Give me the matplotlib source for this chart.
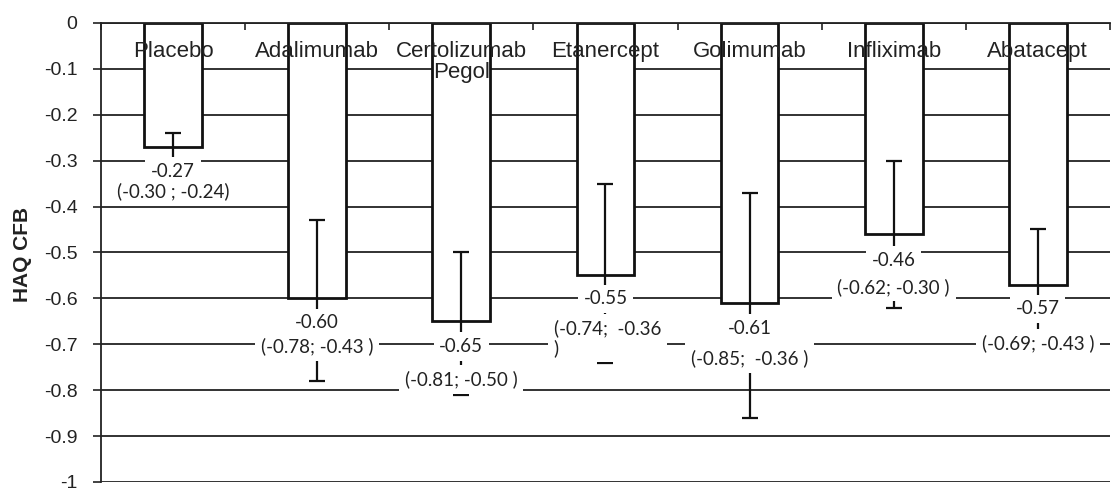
import numpy as np
import matplotlib.pyplot as plt

plt.rcParams['axes.unicode_minus'] = False

treatments = ['Placebo', 'Adalimumab', 'Certolizumab\nPegol', 'Etanercept',
              'Golimumab', 'Infliximab', 'Abatacept']
haq_cfb = [-0.27, -0.60, -0.65, -0.55, -0.61, -0.46, -0.57]
# error bar ends as drawn in the chart
err_low = [-0.30, -0.78, -0.81, -0.74, -0.86, -0.62, -0.69]
err_high = [-0.24, -0.43, -0.50, -0.35, -0.37, -0.30, -0.45]
value_labels = ['-0.27', '-0.60', '-0.65', '-0.55', '-0.61', '-0.46', '-0.57']
ci_labels = ['(-0.30 ; -0.24)', '(-0.78; -0.43 )', '(-0.81; -0.50 )',
             '(-0.74;  -0.36\n)', '(-0.85;  -0.36 )', '(-0.62; -0.30 )',
             '(-0.69; -0.43 )']
yticks = [0, -0.1, -0.2, -0.3, -0.4, -0.5, -0.6, -0.7, -0.8, -0.9, -1]
ytick_labels = ['0', '-0.1', '-0.2', '-0.3', '-0.4', '-0.5', '-0.6',
                '-0.7', '-0.8', '-0.9', '-1']

# where the data labels sit (y of value line, y of CI line)
value_label_y = [-0.323, -0.653, -0.705, -0.601, -0.666, -0.517, -0.623]
ci_label_y = [-0.367, -0.705, -0.776, -0.666, -0.730, -0.575, -0.698]

x = np.arange(len(treatments)) + 0.5
vals = np.array(haq_cfb)
yerr = [vals - np.array(err_low), np.array(err_high) - vals]

fig = plt.figure(figsize=(11.11, 4.94), dpi=100)
ax = fig.add_axes([0.0909, 0.0245, 0.9081, 0.929])

for yt in yticks:
    ax.axhline(yt, color='#222222', lw=1.3, zorder=1)

ax.bar(x, haq_cfb, width=0.4, color='white', edgecolor='#111111', lw=2, zorder=2)
ax.errorbar(x, haq_cfb, yerr=yerr, fmt='none', ecolor='#111111', elinewidth=1.6,
            capsize=6, capthick=1.6, zorder=3)

box = dict(facecolor='white', edgecolor='none', pad=4)
for i in range(len(treatments)):
    ax.text(x[i], value_label_y[i], value_labels[i], ha='center', va='center',
            fontsize=13.5, family='Lato', color='#222222', bbox=box, zorder=4)
    if '\n' in ci_labels[i]:
        ax.text(x[i] - 0.36, ci_label_y[i] + 0.02, ci_labels[i], ha='left', va='top',
                fontsize=13.5, family='Lato', color='#222222', bbox=box, zorder=4,
                linespacing=1.1)
    else:
        ax.text(x[i], ci_label_y[i], ci_labels[i], ha='center', va='center',
                fontsize=13.5, family='Lato', color='#222222', bbox=box, zorder=4)
    ax.text(x[i], -0.040, treatments[i], ha='center', va='top', fontsize=16,
            family='Liberation Sans', color='#222222', zorder=5, linespacing=0.95)

ax.set_xlim(0, len(treatments))
ax.set_ylim(-1, 0)
ax.xaxis.tick_top()
ax.set_xticks(np.arange(len(treatments) + 1))
ax.set_xticklabels([])
ax.tick_params(axis='x', direction='in', length=5, width=1.2, color='#222222')
ax.set_yticks(yticks)
ax.set_yticklabels(ytick_labels, fontsize=14, family='Liberation Sans', color='#222222')
ax.tick_params(axis='y', direction='out', length=6, width=1.2, color='#222222', pad=11)

for side in ['right', 'bottom']:
    ax.spines[side].set_visible(False)
ax.spines['top'].set_color('#222222')
ax.spines['top'].set_linewidth(1.3)
ax.spines['left'].set_color('#222222')
ax.spines['left'].set_linewidth(1.3)

fig.text(0.02, 0.484, 'HAQ CFB', rotation=90, ha='center', va='center',
         fontsize=15, fontweight='bold', family='Liberation Sans', color='#222222')

fig.savefig('out.png', dpi=100)
